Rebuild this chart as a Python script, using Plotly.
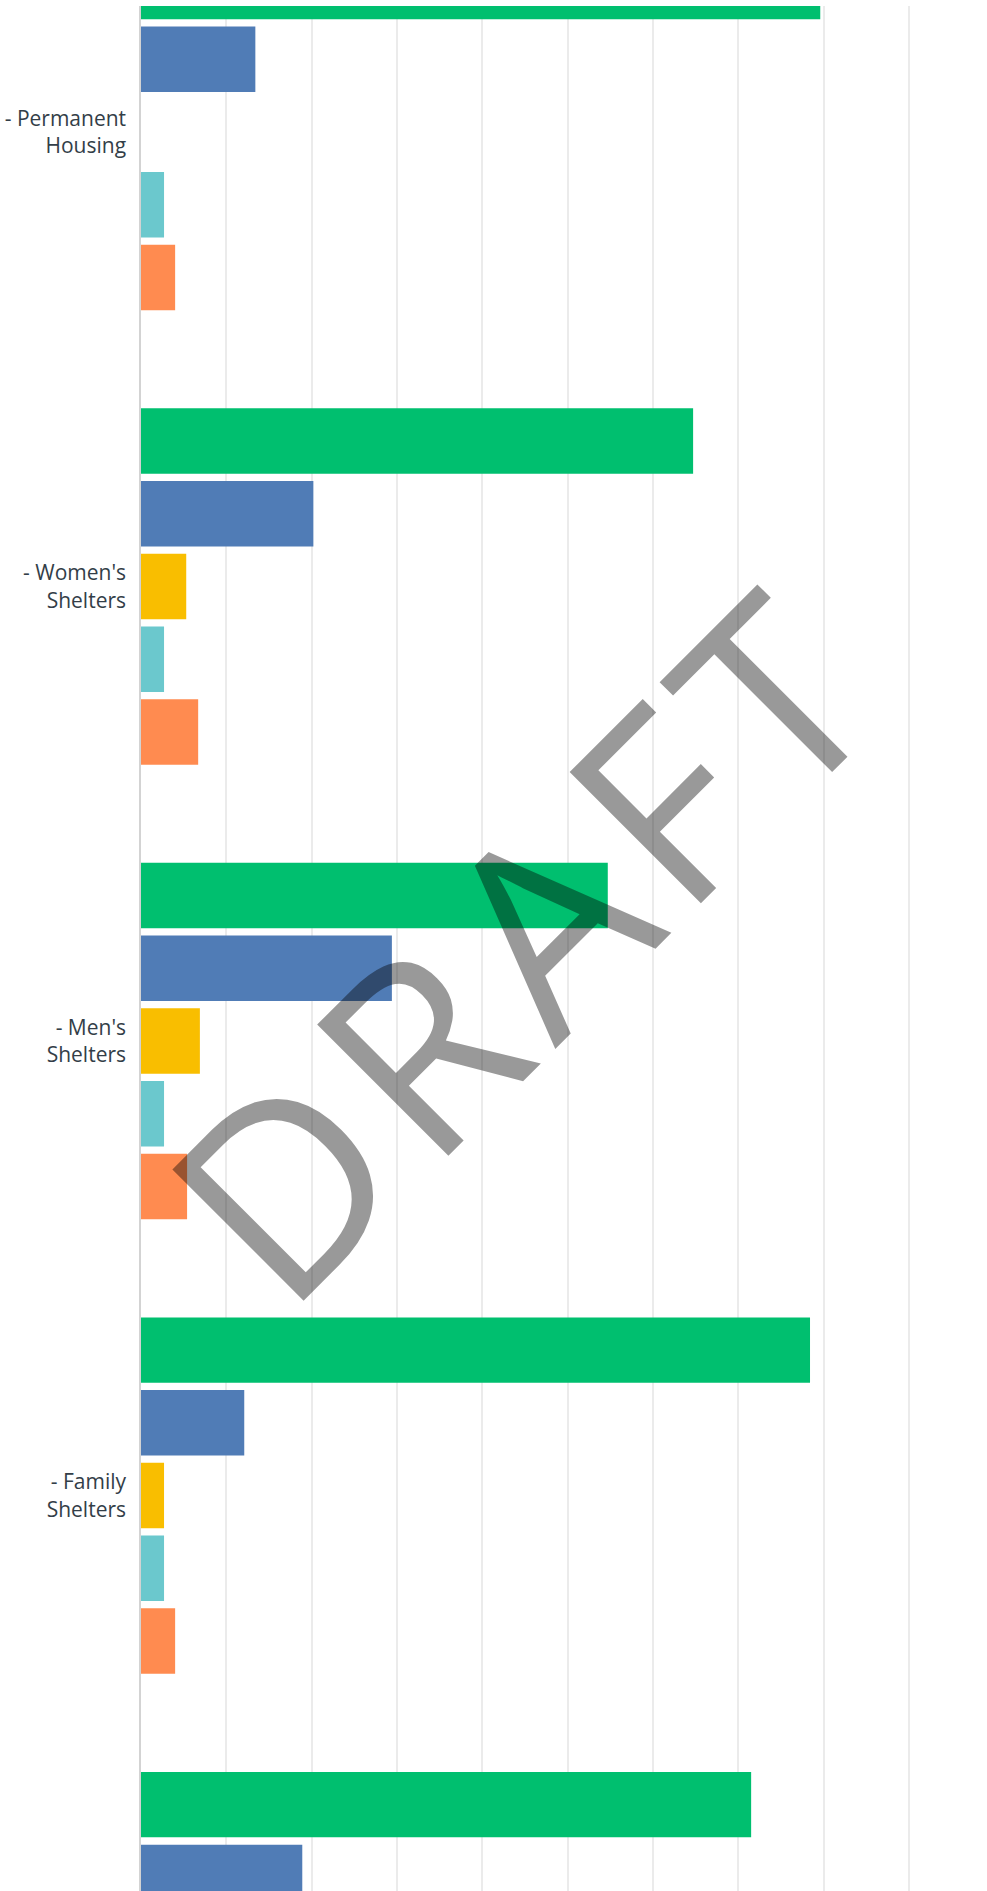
import plotly.graph_objects as go

# ---- data ----
categories = [
    "- Permanent<br>Housing",
    "- Women's<br>Shelters",
    "- Men's<br>Shelters",
    "- Family<br>Shelters",
    "- Other",
]
series_names = ["Series 1", "Series 2", "Series 3", "Series 4", "Series 5"]
green_vals = [79.6, 64.7, 54.7, 78.4, 71.5]
blue_vals = [13.4, 20.2, 29.4, 12.1, 18.9]
yellow_vals = [0, 5.3, 6.9, 2.7, None]
teal_vals = [2.7, 2.7, 2.7, 2.7, None]
orange_vals = [4.0, 6.7, 5.4, 4.0, None]
x_ticks = [0, 10, 20, 30, 40, 50, 60, 70, 80, 90, 100]
watermark_letters = ["D", "R", "A", "F", "T"]

colors = ["#00BF6F", "#507CB6", "#F9BE00", "#6BC8CD", "#FF8B50"]
all_vals = [green_vals, blue_vals, yellow_vals, teal_vals, orange_vals]

fig = go.Figure()
for name, vals, col in zip(series_names, all_vals, colors):
    fig.add_trace(go.Bar(
        y=categories, x=vals, name=name, orientation="h",
        marker=dict(color=col, line=dict(width=0)),
        hoverinfo="skip",
    ))

W, H = 987, 1891
L, T = 141, 6
fig.update_layout(
    width=W, height=H, autosize=False,
    margin=dict(l=L, r=0, t=T, b=0, pad=0),
    barmode="group", bargap=0.2, bargroupgap=0.1,
    showlegend=False,
    plot_bgcolor="white", paper_bgcolor="white",
    font=dict(family="Open Sans", size=21, color="#333e48"),
)
fig.update_xaxes(
    range=[0, 99.14], tickvals=x_ticks, showticklabels=False,
    showgrid=True, gridcolor="#ebebeb", gridwidth=1.5,
    zeroline=False, showline=False, ticks="", fixedrange=True,
)
fig.update_yaxes(
    type="category", categoryorder="array", categoryarray=categories,
    range=[3.870, -0.2772],
    showgrid=False, zeroline=False,
    showline=True, linecolor="#d3d3d3", linewidth=1.5,
    ticks="", ticklabelstandoff=9,
    tickfont=dict(family="Open Sans", size=21, color="#333e48"),
    fixedrange=True,
)

gap = "<span style='font-size:62px'> </span>"
fig.add_annotation(
    text=gap.join(watermark_letters), xref="paper", yref="paper",
    x=0.4437, y=0.5019, xanchor="center", yanchor="middle",
    textangle=-45, showarrow=False,
    font=dict(family="Open Sans", size=260, color="rgba(0,0,0,0.4)"),
)

fig.write_html(
    "out.html",
    config={"displayModeBar": False},
    post_script="document.body.style.margin='0';document.body.style.overflow='hidden';",
)
